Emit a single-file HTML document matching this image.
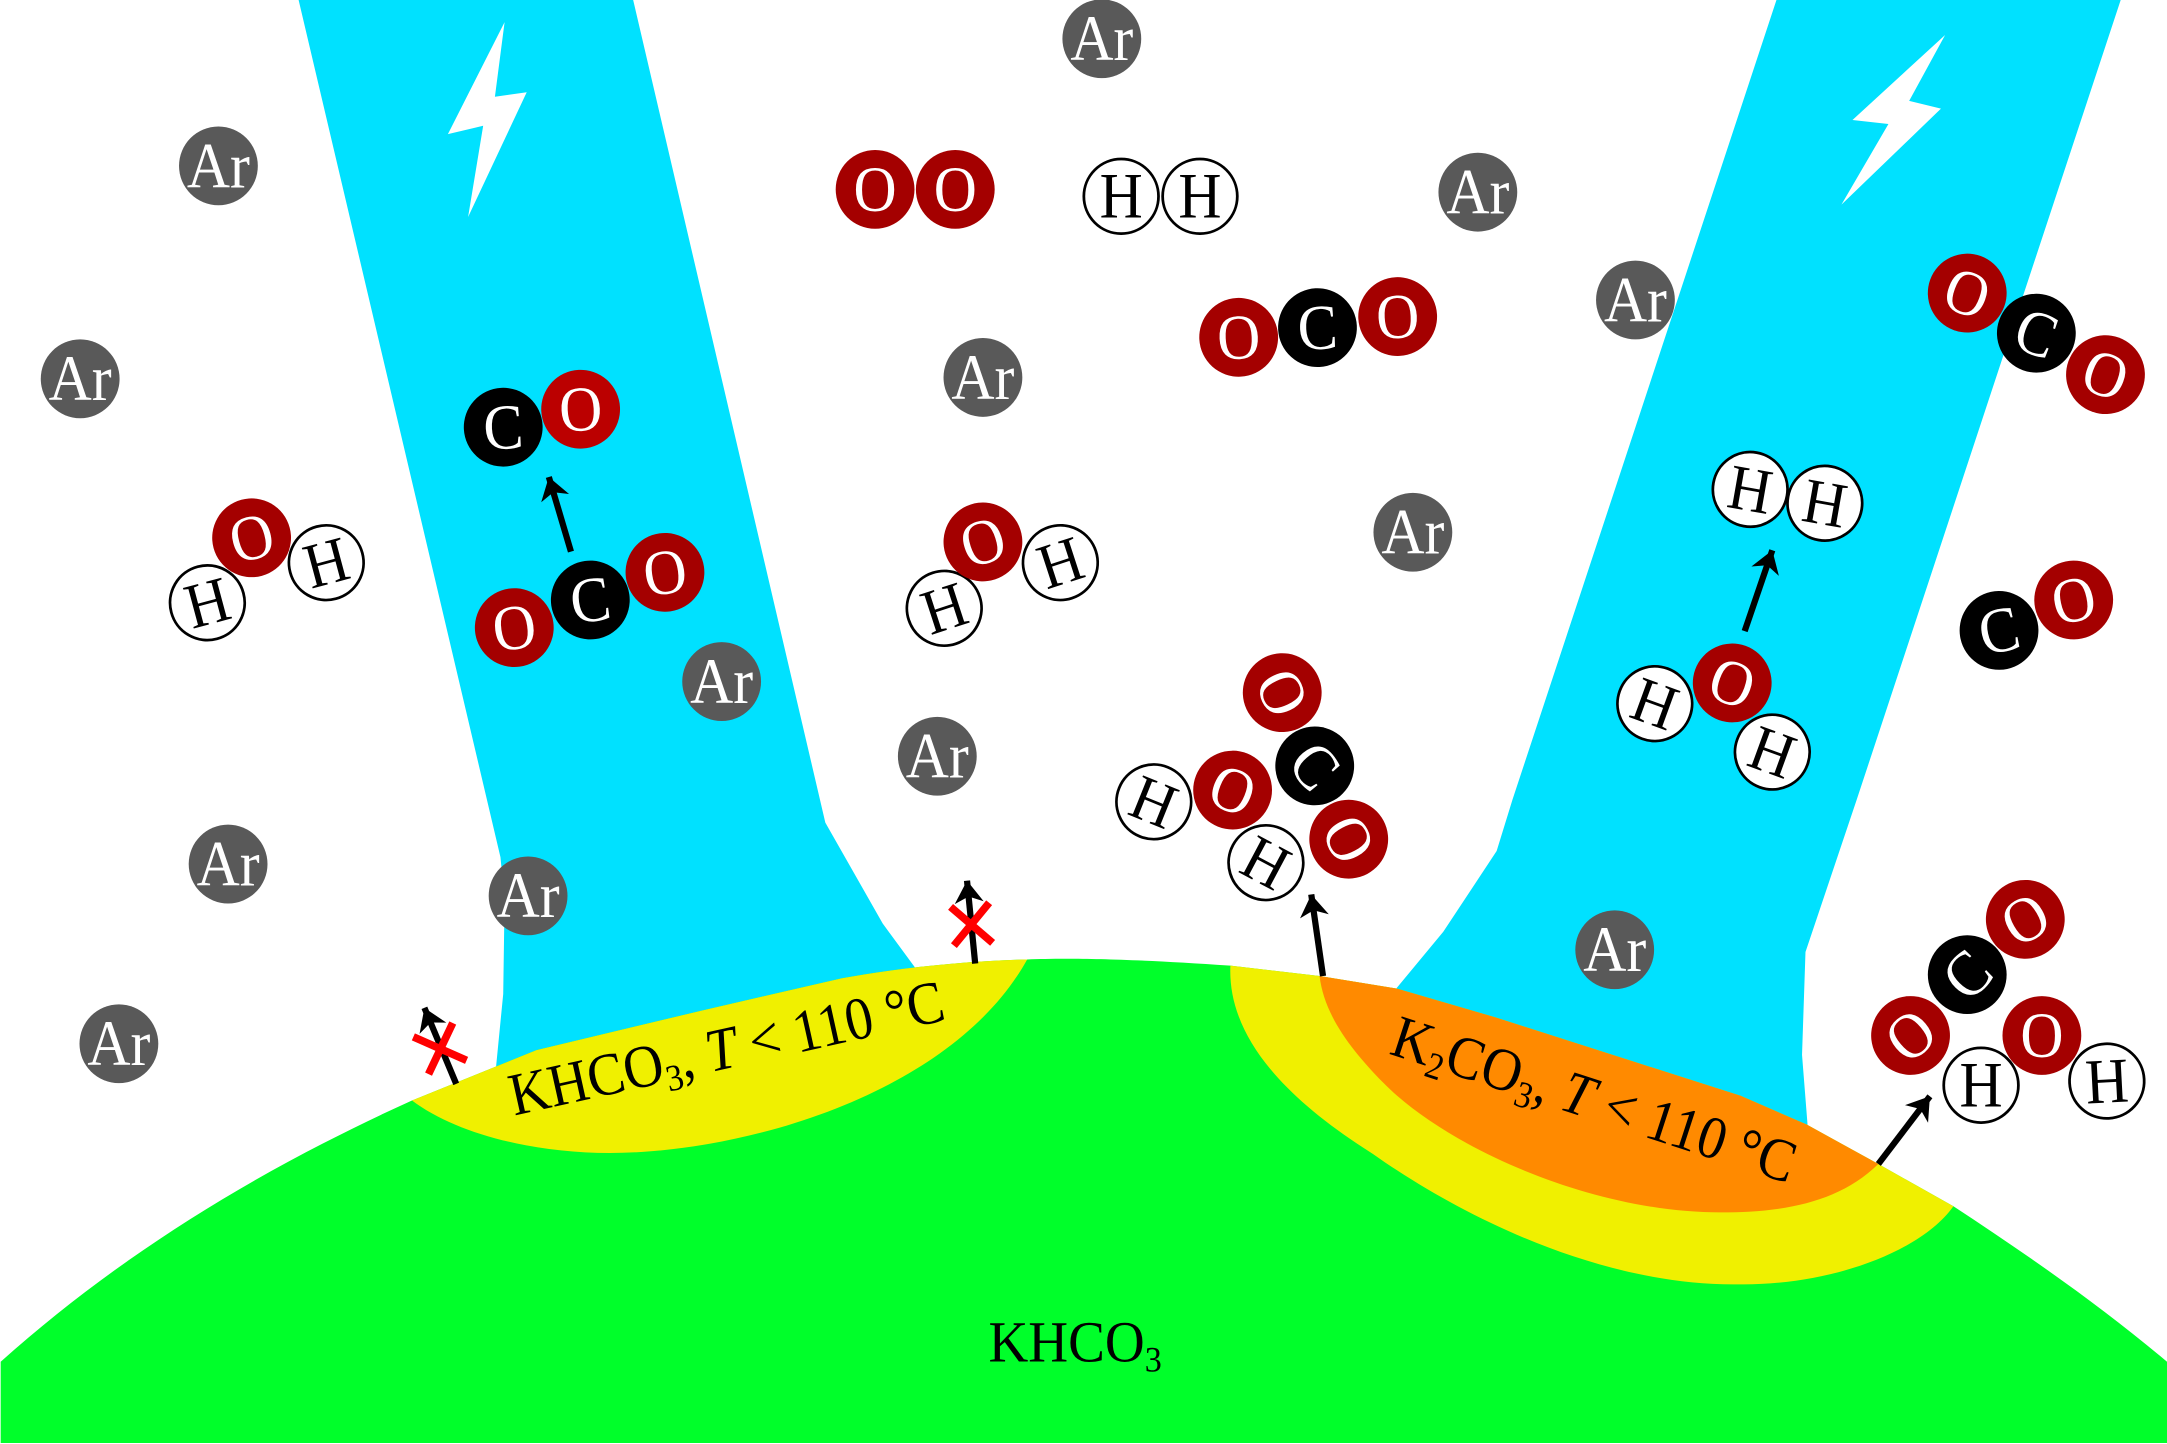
<!DOCTYPE html>
<html>
<head>
<meta charset="utf-8">
<style>
html,body{margin:0;padding:0;background:#fff;width:2167px;height:1444px;overflow:hidden}
svg{display:block}
text{font-family:"Liberation Serif",serif}
.m{font-size:45px;text-anchor:middle;transform:scale(.96,1.03)}
.w{fill:#fff}
.k{fill:#000}
</style>
</head>
<body>
<svg width="2167" height="1444" viewBox="0 0 1567.5 1044.5" preserveAspectRatio="none" xmlns="http://www.w3.org/2000/svg">
<defs>
<marker id="a" markerUnits="userSpaceOnUse" markerWidth="26" markerHeight="26" refX="16" refY="10.5" orient="auto" overflow="visible"><path d="M16,10.5 L0,0 L4.5,10.5 L0,21 Z" fill="#000"/></marker>
<g id="ar"><circle r="28.5" fill="#595959"/><text class="m w" y="15">Ar</text></g>
</defs>
<rect width="1568" height="1045" fill="#fff"/>

<!-- beams -->
<polygon fill="#00e1ff" points="216,0 458,0 597,595 638.5,668 662,700 600,780 358,780 364,719 365,651 362,620"/>
<polygon fill="#00e1ff" points="1285,0 1534,0 1343,578.6 1306,688.6 1303.5,763 1308,820 1000,730 1010,715 1044,674 1082.6,615.6 1094,578.6"/>

<!-- lightning -->
<polygon fill="#fff" points="365,16 358,70 381,66.7 338.6,157 349.5,91 324,97"/>
<polygon fill="#fff" points="1407,25.3 1381,73 1404,78.6 1332,148 1366,89.7 1340,86.8"/>

<!-- ground -->
<path fill="#00ff2a" d="M0.5,985 C90,905 190,845 298,796 L388,759.6 L507.5,731 L609,707.6 C650,700 700,695 743,694 C770,693 810,693 890,698.5 L954.5,706 L1010,715 L1082,736 L1259,792.6 L1307,813.5 L1358.7,842 L1413,872.5 C1470,910 1520,945 1567.5,985 L1567.5,1043.8 L0.5,1043.8 Z"/>
<path fill="#f0f000" d="M298,796 L388,759.6 L507.5,731 L609,707.6 C650,700 700,695 743,694 C690,790 540,834 441,834 C385,834 330,820 298,796 Z"/>
<path fill="#f0f000" d="M890,698.5 L954.5,706 L1010,715 L1082,736 L1259,792.6 L1307,813.5 L1358.7,842 L1413,872.5 C1390,905 1325,930 1257,929 C1160,930 1060,882 993,834.6 C922,790 888,745 890,698.5 Z"/>
<path fill="#ff8a00" d="M954.5,706 L1010,715 L1082,736 L1259,792.6 L1307,813.5 L1358.7,842 C1330,870 1290,877 1244.6,877 C1150,877 1045,829 1000,782.6 C978,760 958,735 954.5,706 Z"/>

<!-- labels -->
<text transform="translate(715,985) scale(.95,1)" font-size="42">KHCO<tspan font-size="26" dy="7">3</tspan></text>
<text transform="translate(372,807) rotate(-12.5) scale(.95,1.04)" font-size="42">KHCO<tspan font-size="26" dy="7">3</tspan><tspan dy="-7">, </tspan><tspan font-style="italic">T</tspan> &lt; 110 °C</text>
<text transform="translate(1004,762) rotate(18) scale(.95,1.04)" font-size="42">K<tspan font-size="26" dy="7">2</tspan><tspan dy="-7">CO</tspan><tspan font-size="26" dy="7">3</tspan><tspan dy="-7">, </tspan><tspan font-style="italic">T</tspan> &lt; 110 °C</text>

<!-- arrows -->
<g stroke="#000" stroke-width="4.5" fill="none">
<line x1="413" y1="399" x2="397" y2="345" marker-end="url(#a)"/>
<line x1="1262" y1="456.5" x2="1282" y2="398" marker-end="url(#a)"/>
<line x1="1358.7" y1="842" x2="1396" y2="793" marker-end="url(#a)"/>
<line x1="957" y1="706" x2="948.5" y2="647" marker-end="url(#a)"/>
<line x1="330" y1="784" x2="307" y2="729" marker-end="url(#a)"/>
<line x1="705.4" y1="697" x2="699.5" y2="637" marker-end="url(#a)"/>
</g>
<g stroke="#ff0000" stroke-width="5.5" fill="none">
<line x1="299" y1="750" x2="337.5" y2="767"/>
<line x1="327.5" y1="740" x2="310" y2="777"/>
<line x1="687.6" y1="656" x2="718" y2="682"/>
<line x1="715.5" y1="653" x2="690" y2="684"/>
</g>

<!-- Ar atoms -->
<use href="#ar" x="158" y="120"/>
<use href="#ar" x="58" y="274"/>
<use href="#ar" x="797" y="28"/>
<use href="#ar" x="711" y="273"/>
<use href="#ar" x="1069" y="139"/>
<use href="#ar" x="1183" y="217"/>
<use href="#ar" x="1022" y="385"/>
<use href="#ar" x="522" y="493"/>
<use href="#ar" x="678" y="547"/>
<use href="#ar" x="165" y="625"/>
<use href="#ar" x="382" y="648"/>
<use href="#ar" x="86" y="755"/>
<use href="#ar" x="1168" y="687"/>

<!-- O2 -->
<g transform="translate(633,137)"><circle r="28.5" fill="#a40000"/><text class="m w" y="15">O</text></g>
<g transform="translate(691,137)"><circle r="28.5" fill="#a40000"/><text class="m w" y="15">O</text></g>

<!-- H2 centre -->
<g transform="translate(811,142)"><circle r="27" fill="#fff" stroke="#000" stroke-width="2"/><text class="m k" y="15">H</text></g>
<g transform="translate(868,142)"><circle r="27" fill="#fff" stroke="#000" stroke-width="2"/><text class="m k" y="15">H</text></g>

<!-- CO2 centre -->
<g transform="translate(896,244) rotate(-3)"><circle r="28.5" fill="#a40000"/><text class="m w" y="15">O</text></g>
<g transform="translate(953,237) rotate(-3)"><circle r="28.5" fill="#000"/><text class="m w" y="15">C</text></g>
<g transform="translate(1011,229) rotate(-3)"><circle r="28.5" fill="#a40000"/><text class="m w" y="15">O</text></g>

<!-- CO2 right -->
<g transform="translate(1423,212) rotate(20)"><circle r="28.5" fill="#a40000"/><text class="m w" y="15">O</text></g>
<g transform="translate(1473,241) rotate(20)"><circle r="28.5" fill="#000"/><text class="m w" y="15">C</text></g>
<g transform="translate(1523,271) rotate(20)"><circle r="28.5" fill="#a40000"/><text class="m w" y="15">O</text></g>

<!-- CO left beam -->
<g transform="translate(364,309) rotate(-3)"><circle r="28.5" fill="#000"/><text class="m w" y="15">C</text></g>
<g transform="translate(420,296) rotate(-3)"><circle r="28.5" fill="#bb0000"/><text class="m w" y="15">O</text></g>

<!-- CO2 left beam -->
<g transform="translate(372,454) rotate(-8)"><circle r="28.5" fill="#a40000"/><text class="m w" y="15">O</text></g>
<g transform="translate(427,434) rotate(-8)"><circle r="28.5" fill="#000"/><text class="m w" y="15">C</text></g>
<g transform="translate(481,414) rotate(-8)"><circle r="28.5" fill="#a40000"/><text class="m w" y="15">O</text></g>

<!-- H2O left -->
<g transform="translate(150,436) rotate(-15)"><circle r="27" fill="#fff" stroke="#000" stroke-width="2"/><text class="m k" y="15">H</text></g>
<g transform="translate(182,389) rotate(-15)"><circle r="28.5" fill="#a40000"/><text class="m w" y="15">O</text></g>
<g transform="translate(236,407) rotate(-15)"><circle r="27" fill="#fff" stroke="#000" stroke-width="2"/><text class="m k" y="15">H</text></g>

<!-- H2O centre -->
<g transform="translate(683,440) rotate(-18)"><circle r="27" fill="#fff" stroke="#000" stroke-width="2"/><text class="m k" y="15">H</text></g>
<g transform="translate(711,392) rotate(-18)"><circle r="28.5" fill="#a40000"/><text class="m w" y="15">O</text></g>
<g transform="translate(767,407) rotate(-18)"><circle r="27" fill="#fff" stroke="#000" stroke-width="2"/><text class="m k" y="15">H</text></g>

<!-- H2 right -->
<g transform="translate(1266,354) rotate(10)"><circle r="27" fill="#fff" stroke="#000" stroke-width="2"/><text class="m k" y="15">H</text></g>
<g transform="translate(1320,364) rotate(10)"><circle r="27" fill="#fff" stroke="#000" stroke-width="2"/><text class="m k" y="15">H</text></g>

<!-- H2O right -->
<g transform="translate(1197,509) rotate(20)"><circle r="27" fill="#fff" stroke="#000" stroke-width="2"/><text class="m k" y="15">H</text></g>
<g transform="translate(1253,494) rotate(20)"><circle r="28.5" fill="#a40000"/><text class="m w" y="15">O</text></g>
<g transform="translate(1282,544) rotate(20)"><circle r="27" fill="#fff" stroke="#000" stroke-width="2"/><text class="m k" y="15">H</text></g>

<!-- CO right -->
<g transform="translate(1446,456) rotate(-12)"><circle r="28.5" fill="#000"/><text class="m w" y="15">C</text></g>
<g transform="translate(1500,434) rotate(-12)"><circle r="28.5" fill="#a40000"/><text class="m w" y="15">O</text></g>

<!-- KHCO3 top -->
<g transform="translate(927.5,501) rotate(65)"><circle r="28.5" fill="#a40000"/><text class="m w" y="15">O</text></g>
<g transform="translate(951,554) rotate(50)"><circle r="28.5" fill="#000"/><text class="m w" y="15">C</text></g>
<g transform="translate(891.6,571.5) rotate(22)"><circle r="28.5" fill="#a40000"/><text class="m w" y="15">O</text></g>
<g transform="translate(975.6,607) rotate(62)"><circle r="28.5" fill="#a40000"/><text class="m w" y="15">O</text></g>
<g transform="translate(834.6,580) rotate(22)"><circle r="27" fill="#fff" stroke="#000" stroke-width="2"/><text class="m k" y="15">H</text></g>
<g transform="translate(915.7,624) rotate(28)"><circle r="27" fill="#fff" stroke="#000" stroke-width="2"/><text class="m k" y="15">H</text></g>

<!-- KHCO3 right -->
<g transform="translate(1465,665) rotate(-30)"><circle r="28.5" fill="#a40000"/><text class="m w" y="15">O</text></g>
<g transform="translate(1423,705) rotate(-45)"><circle r="28.5" fill="#000"/><text class="m w" y="15">C</text></g>
<g transform="translate(1382,749) rotate(-40)"><circle r="28.5" fill="#a40000"/><text class="m w" y="15">O</text></g>
<g transform="translate(1477,749)"><circle r="28.5" fill="#a40000"/><text class="m w" y="15">O</text></g>
<g transform="translate(1433,785)"><circle r="27" fill="#fff" stroke="#000" stroke-width="2"/><text class="m k" y="15">H</text></g>
<g transform="translate(1524,782) rotate(-3)"><circle r="27" fill="#fff" stroke="#000" stroke-width="2"/><text class="m k" y="15">H</text></g>
</svg>
</body>
</html>
